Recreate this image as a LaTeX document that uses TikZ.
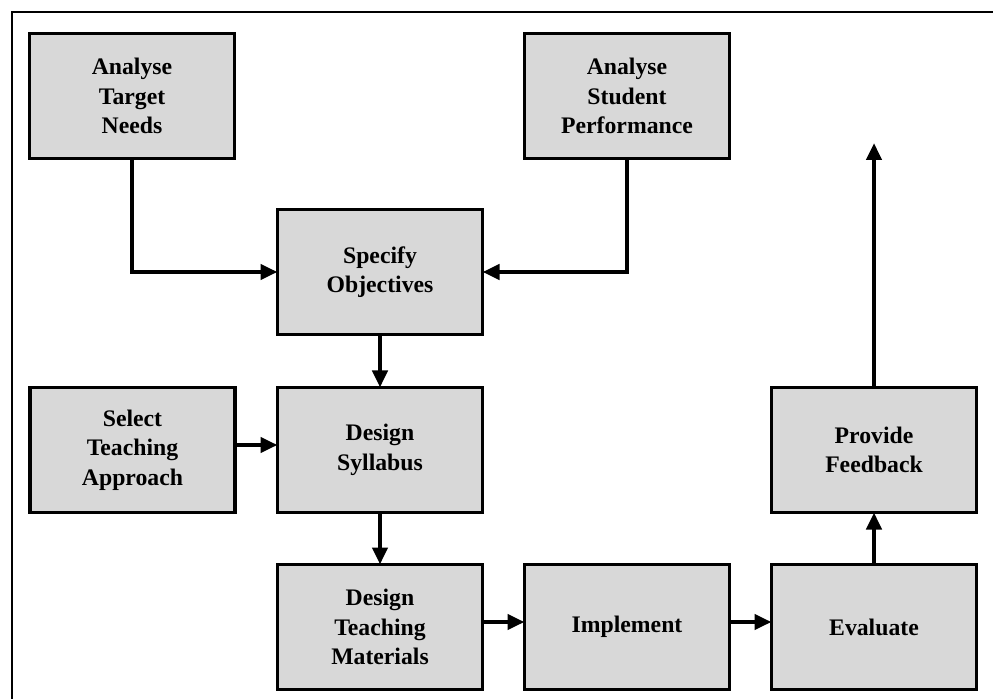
\documentclass[tikz,border=0pt]{standalone}
\usepackage{fontspec}
\setmainfont{Liberation Serif}
\usepackage{tikz}
\usetikzlibrary{positioning,arrows.meta}
\definecolor{boxgray}{RGB}{216,216,216}

\begin{document}
\begin{tikzpicture}[node distance={1.05cm}, >={Triangle[length=0.34cm,width=0.3cm]},
	main/.style = {draw, line width=2.2pt, outer sep=0pt, fill=boxgray, minimum width=4.1cm, minimum height=2.5cm, align=center, font=\fontsize{13.5}{16.7}\selectfont\bfseries},
	link/.style = {->, line width=2.4pt}]
		\useasboundingbox (0,0) rectangle (19.86,-13.98);
		\draw[line width=1.7pt] (0.24,-13.98) -- (0.24,-0.24) -- (19.86,-0.24);
		
		\node[main] (atn) at (2.64,-1.92) {Analyse\\Target\\Needs};
		\node[main] (so) [below right=1.02cm and 0.86cm of atn] {Specify\\Objectives};
		\node[main] (asp) [above right=1.02cm and 0.84cm of so] {Analyse\\Student\\Performance};
		\node[main] (ds) [below=1.06cm of so] {Design\\Syllabus};
		\node[main] (sta) [left=0.85cm of ds] {Select\\Teaching\\Approach};
		\node[main] (dtm) [below=1.04cm of ds] {Design\\Teaching\\Materials};
		\node[main] (imp) [right=0.84cm of dtm] {Implement};
		\node[main] (ev) [right=0.84cm of imp] {Evaluate};
		\node[main] (pf) [above=1.04cm of ev] {Provide\\Feedback};
		\coordinate[above=4.89cm of pf.north] (out);
		
		\draw[link] (atn) |- (so);
		\draw[link] (asp) |- (so);
		\draw[link] (so) -- (ds);
		\draw[link] ([yshift=1mm]sta.east) -- ([yshift=1mm]ds.west);
		\draw[link] (ds) -- (dtm);
		\draw[link] ([yshift=1mm]dtm.east) -- ([yshift=1mm]imp.west);
		\draw[link] ([yshift=1mm]imp.east) -- ([yshift=1mm]ev.west);
		\draw[link] (ev) -- (pf);
		\draw[link] (pf) -- (out);
	\end{tikzpicture}
\end{document}
